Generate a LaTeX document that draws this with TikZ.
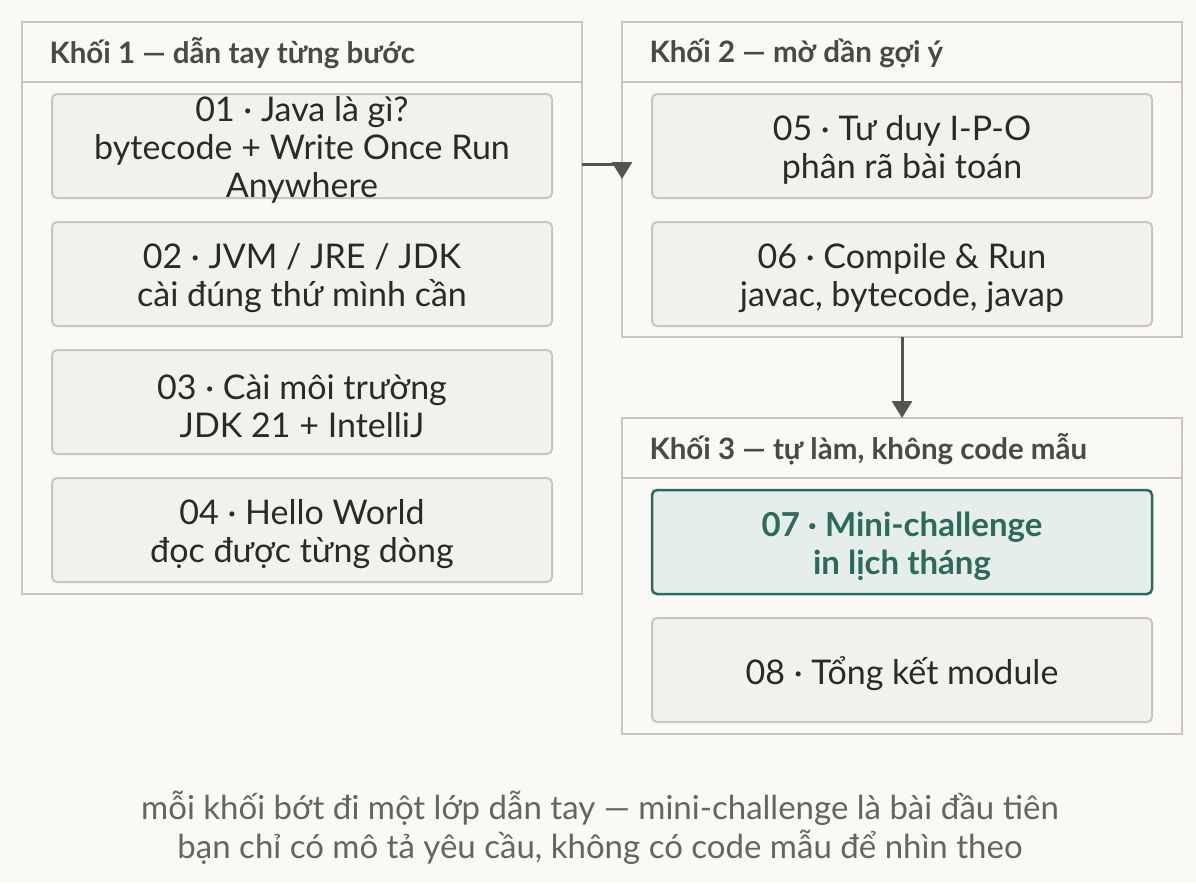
\documentclass[tikz,border=0pt]{standalone}
\usepackage{fontspec}
\setmainfont{Lato}
\usetikzlibrary{arrows.meta}
\definecolor{bg}{HTML}{FAF9F6}
\definecolor{bd}{HTML}{C9C6BD}
\definecolor{boxf}{HTML}{F2F1ED}
\definecolor{tx}{HTML}{2A2A28}
\definecolor{hd}{HTML}{4A4944}
\definecolor{teal}{HTML}{2C6A5C}
\definecolor{tealf}{HTML}{E5EEEA}
\definecolor{arr}{HTML}{55544F}
\begin{document}
\begin{tikzpicture}[x=1pt,y=-1pt,
 grp/.style={draw=bd,line width=2pt,fill=bg},
 box/.style={draw=bd,line width=2pt,fill=boxf,rounded corners=5pt},
 btxt/.style={align=center,text=tx,font=\fontsize{34}{38}\selectfont},
 htxt/.style={anchor=west,text=hd,font=\bfseries\fontsize{29.5}{34}\selectfont},
 con/.style={draw=arr,line width=3pt,-{Triangle[length=17pt,width=20pt]}}]
\fill[bg] (0,0) rectangle (1196,883);
\useasboundingbox (0,0) rectangle (1196,883);
% groups
\draw[grp] (22,22) rectangle (582,594); \draw[bd,line width=2pt] (22,82)--(582,82);
\draw[grp] (622,22) rectangle (1182,337); \draw[bd,line width=2pt] (622,82)--(1182,82);
\draw[grp] (622,418) rectangle (1182,734); \draw[bd,line width=2pt] (622,478)--(1182,478);
\node[htxt] (h1) at (46,53) {Khối 1 — dẫn tay từng bước};
\node[htxt] (h2) at (646,53) {Khối 2 — mờ dần gợi ý};
\node[htxt] (h3) at (646,449) {Khối 3 — tự làm, không code mẫu};
\coordinate (g1r) at (582,164);
\coordinate (g2t) at (622,179);
\coordinate (g2b) at (902,337);
\coordinate (g3t) at (902,418);
% boxes
\draw[box] (52,94) rectangle (552,198); \node[btxt] (b1) at (302,150) {01 · Java là gì?\\bytecode + Write Once Run\\Anywhere};
\draw[box] (52,222) rectangle (552,326); \node[btxt] (b2) at (302,278) {02 · JVM / JRE / JDK\\cài đúng thứ mình cần};
\draw[box] (52,350) rectangle (552,454); \node[btxt] (b3) at (302,406) {03 · Cài môi trường\\JDK 21 + IntelliJ};
\draw[box] (52,478) rectangle (552,582); \node[btxt] (b4) at (302,534) {04 · Hello World\\đọc được từng dòng};
\draw[box] (652,94) rectangle (1152,198); \node[btxt] (b5) at (902,150) {05 · Tư duy I-P-O\\phân rã bài toán};
\draw[box] (652,222) rectangle (1152,326); \node[btxt] (b6) at (902,278) {06 · Compile \& Run\\javac, bytecode, javap};
\draw[box,draw=teal,fill=tealf,line width=2.5pt] (652,490) rectangle (1152,594); \node[btxt,text=teal,font=\bfseries\fontsize{33}{38}\selectfont] (b7) at (902,546) {07 · Mini-challenge\\in lịch tháng};
\draw[box] (652,618) rectangle (1152,722); \node[btxt] (b8) at (902,674) {08 · Tổng kết module};
% connectors
\draw[con] (g1r) -| (g2t);
\draw[con] (g2b) -- (g3t);
\node[align=center,text=hd!85,font=\fontsize{33}{39}\selectfont] (cap) at (600,828) {mỗi khối bớt đi một lớp dẫn tay — mini-challenge là bài đầu tiên\\bạn chỉ có mô tả yêu cầu, không có code mẫu để nhìn theo};
\end{tikzpicture}
\end{document}
